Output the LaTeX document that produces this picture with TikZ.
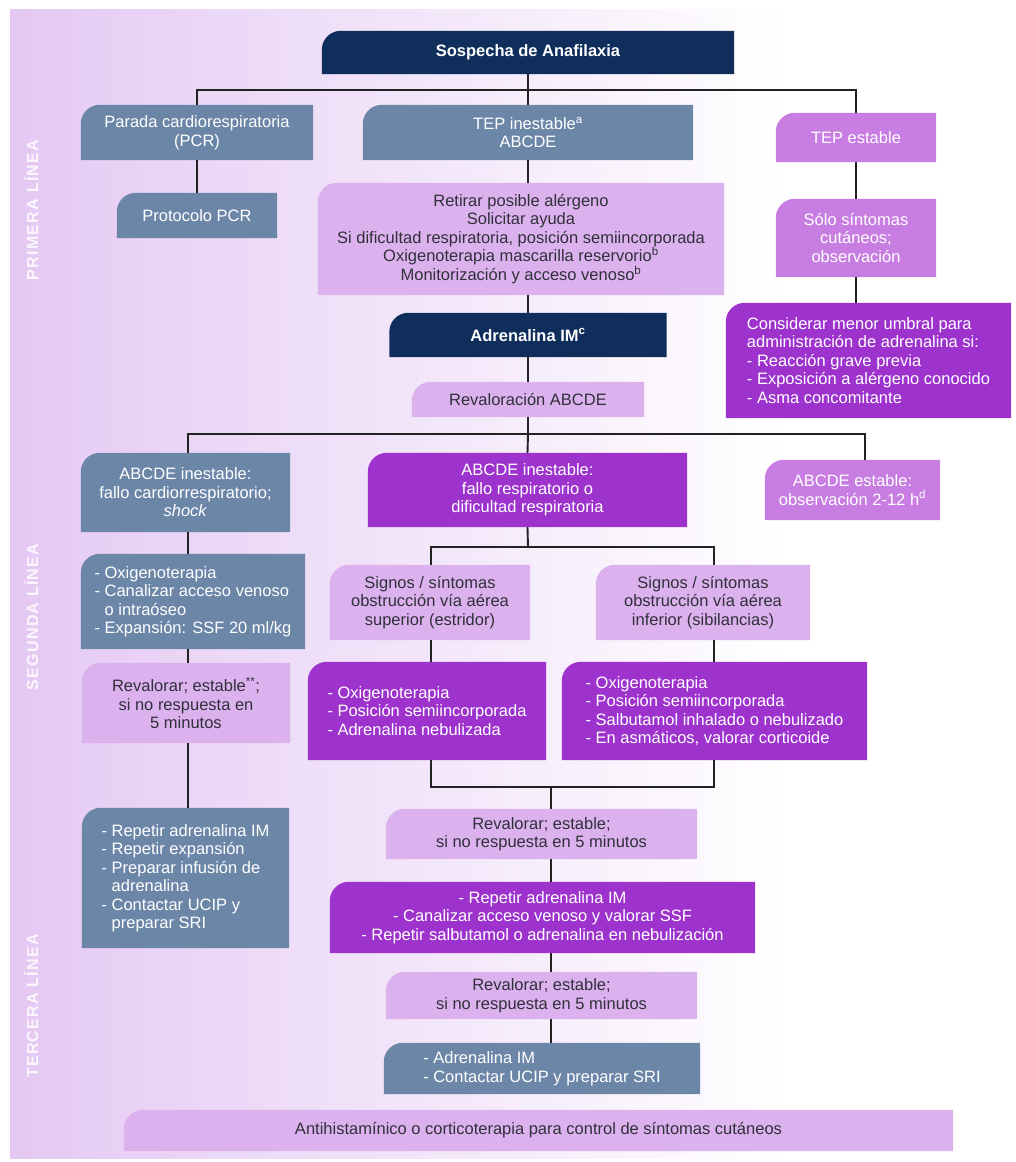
\documentclass[tikz,border=0pt]{standalone}
\usepackage{fontspec}
\setmainfont{Liberation Sans}
\usetikzlibrary{calc}
\definecolor{navy}{RGB}{16,46,92}
\definecolor{slate}{RGB}{108,134,168}
\definecolor{lav}{RGB}{220,178,238}
\definecolor{mpur}{RGB}{199,125,225}
\definecolor{bpur}{RGB}{157,50,205}
\definecolor{bgl}{RGB}{214,172,236}
\definecolor{bgm}{RGB}{232,208,245}
\definecolor{ink}{RGB}{48,48,58}
\definecolor{linec}{RGB}{34,34,34}
\pgfdeclarelayer{bglayer}
\pgfdeclarelayer{fills}
\pgfsetlayers{bglayer,fills,main}
\pgfdeclarehorizontalshading{bgsh}{100bp}{color(0bp)=(bgl); color(8bp)=(bgl); color(30bp)=(bgm); color(64bp)=(white); color(100bp)=(white)}
\newcommand\bxfont{\fontsize{16.5}{18.5}\selectfont}
\newcommand\tlfill[2]{\fill[#2] (#1.south west) -- ($(#1.north west)+(0,19)$) .. controls ($(#1.north west)+(0,8.5)$) and ($(#1.north west)+(8.5,0)$) .. ($(#1.north west)+(19,0)$) -- (#1.north east) -- (#1.south east) -- cycle;}
\newcommand\ind{\phantom{- }}
\begin{document}
\begin{tikzpicture}[x=1pt,y=-1pt,
  bx/.style={inner xsep=4pt, inner ysep=0pt, align=center, font=\bxfont},
  navyb/.style={bx, text=white, font=\bxfont\bfseries},
  slateb/.style={bx, text=white},
  lavb/.style={bx, text=ink},
  mpurb/.style={bx, text=white},
  bpurb/.style={bx, text=white},
  conn/.style={draw=linec, line width=1.9pt},
  lbl/.style={text=white, opacity=0.85, font=\fontsize{16}{19}\selectfont\bfseries\addfontfeatures{LetterSpace=8}, rotate=90}
]
\useasboundingbox (0,0) rectangle (1016,1162);
\begin{pgfonlayer}{bglayer}
  \fill[white] (0,0) rectangle (1016,1162);
  \shade[shading=bgsh] (10,9) rectangle (1005,1158);
\end{pgfonlayer}

% side labels
\node[lbl] (l1) at (31,210) {PRIMERA LÍNEA};
\node[lbl] (l2) at (31,617) {SEGUNDA LÍNEA};
\node[lbl] (l3) at (31,1006) {TERCERA LÍNEA};

% first line
\node[navyb, minimum width=412, minimum height=43] (top) at (528,52.5) {Sospecha de Anafilaxia};
\node[slateb, minimum width=232, minimum height=55] (pcr) at (197,132.5) {Parada cardiorespiratoria\\(PCR)};
\node[slateb, minimum width=330, minimum height=55] (tepi) at (528,132.5) {TEP inestable\textsuperscript{a}\\ABCDE};
\node[mpurb, minimum width=160, minimum height=49] (tepe) at (856,137.5) {TEP estable};
\node[slateb, minimum width=160, minimum height=45] (proto) at (197,215.5) {Protocolo PCR};
\node[lavb, minimum width=406, minimum height=112] (ret) at (521,239) {Retirar posible alérgeno\\Solicitar ayuda\\Si dificultad respiratoria, posición semiincorporada\\Oxigenoterapia mascarilla reservorio\textsuperscript{b}\\Monitorización y acceso venoso\textsuperscript{b}};
\node[mpurb, minimum width=160, minimum height=78] (solo) at (856,238) {Sólo síntomas\\cutáneos;\\observación};
\node[navyb, minimum width=277, minimum height=44] (adren) at (528,335) {Adrenalina IM\textsuperscript{c}};
\node[bpurb, align=left, minimum width=285, minimum height=115] (cons) at (868.5,360.5) {Considerar menor umbral para\\administración de adrenalina si:\\- Reacción grave previa\\- Exposición a alérgeno conocido\\- Asma concomitante};
\node[lavb, minimum width=232, minimum height=35] (revab) at (528,399.5) {Revaloración ABCDE};

% second line
\node[slateb, minimum width=209, minimum height=79] (abL) at (185.5,492.5) {ABCDE inestable:\\fallo cardiorrespiratorio;\\\textit{shock}};
\node[bpurb, minimum width=319, minimum height=74] (abM) at (527.5,490) {ABCDE inestable:\\fallo respiratorio o\\dificultad respiratoria};
\node[mpurb, minimum width=175, minimum height=60] (abR) at (852.5,490) {ABCDE estable:\\observación 2-12 h\textsuperscript{d}};
\node[slateb, align=left, minimum width=224, minimum height=95] (oxL) at (193,601.5) {- Oxigenoterapia\\- Canalizar acceso venoso\\\ind o intraóseo\\- Expansión: SSF 20 ml/kg};
\node[lavb, minimum width=200, minimum height=75] (sgL) at (430,602.5) {Signos / síntomas\\obstrucción vía aérea\\superior (estridor)};
\node[lavb, minimum width=214, minimum height=75] (sgR) at (703,602.5) {Signos / síntomas\\obstrucción vía aérea\\inferior (sibilancias)};
\node[lavb, minimum width=208, minimum height=80] (revL) at (186,703) {Revalorar; estable\textsuperscript{**};\\si no respuesta en\\5 minutos};
\node[bpurb, align=left, minimum width=238, minimum height=98] (puL) at (427,711) {- Oxigenoterapia\\- Posición semiincorporada\\- Adrenalina nebulizada};
\node[bpurb, align=left, minimum width=305, minimum height=98] (puR) at (714.5,711) {- Oxigenoterapia\\- Posición semiincorporada\\- Salbutamol inhalado o nebulizado\\- En asmáticos, valorar corticoide};
\node[lavb, minimum width=311, minimum height=50] (rev1) at (541.5,834) {Revalorar; estable;\\si no respuesta en 5 minutos};

% third line
\node[slateb, align=left, minimum width=207, minimum height=140] (repL) at (185.5,878) {- Repetir adrenalina IM\\- Repetir expansión\\- Preparar infusión de\\\ind adrenalina\\- Contactar UCIP y\\\ind preparar SRI};
\node[bpurb, minimum width=425, minimum height=71] (repM) at (542.5,917.5) {- Repetir adrenalina IM\\- Canalizar acceso venoso y valorar SSF\\- Repetir salbutamol o adrenalina en nebulización};
\node[lavb, minimum width=311, minimum height=47] (rev2) at (541.5,995.5) {Revalorar; estable;\\si no respuesta en 5 minutos};
\node[slateb, align=left, minimum width=316, minimum height=51] (fin) at (542,1068.5) {- Adrenalina IM\\- Contactar UCIP y preparar SRI};
\node[lavb, minimum width=829, minimum height=41] (bot) at (538.5,1130.5) {Antihistamínico o corticoterapia para control de síntomas cutáneos};

% box fills (rounded top-left corner only)
\begin{pgfonlayer}{fills}
  \foreach \n/\col in {top/navy, pcr/slate, tepi/slate, tepe/mpur, proto/slate, ret/lav, solo/mpur, adren/navy, cons/bpur, revab/lav, abL/slate, abM/bpur, abR/mpur, oxL/slate, sgL/lav, sgR/lav, revL/lav, puL/bpur, puR/bpur, rev1/lav, repL/slate, repM/bpur, rev2/lav, fin/slate, bot/lav}
    {\tlfill{\n}{\col}}
\end{pgfonlayer}

% connectors
\coordinate (j1) at (528,90);
\draw[conn] (top.south) -- (j1);
\draw[conn] (pcr.north) |- (j1) -| (tepe.north);
\draw[conn] (j1) -- (tepi.north);
\draw[conn] (pcr.south) -- (proto.north);
\draw[conn] (tepi.south) -- (tepi.south |- ret.north);
\draw[conn] (adren.north |- ret.south) -- (adren.north);
\draw[conn] (tepe.south) -- (solo.north);
\draw[conn] (solo.south) -- (solo.south |- cons.north);
\draw[conn] (adren.south) -- (revab.north);

\coordinate (j2) at (528,434);
\coordinate (cl) at (188,434);
\coordinate (cr) at (865,434);
\draw[conn] (revab.south) -- (j2);
\draw[conn] (cl |- abL.north) -- (cl) -- (cr) -- (cr |- abR.north);
\draw[conn] (j2) -- (abM.north);
\draw[conn] (cl |- abL.south) -- (cl |- oxL.north);
\draw[conn] (cl |- oxL.south) -- (cl |- revL.north);
\draw[conn] (cl |- revL.south) -- (cl |- repL.north);

\coordinate (j3) at (528,547);
\coordinate (sl) at (431,547);
\coordinate (sr) at (714,547);
\draw[conn] (abM.south) -- (j3);
\draw[conn] (sl |- sgL.north) -- (sl) -- (sr) -- (sr |- sgR.north);
\draw[conn] (sl |- sgL.south) -- (sl |- puL.north);
\draw[conn] (sr |- sgR.south) -- (sr |- puR.north);

\coordinate (j4) at (551,787);
\draw[conn] (sl |- puL.south) -- (sl |- j4) -- (sr |- j4) -- (sr |- puR.south);
\draw[conn] (j4) -- (j4 |- rev1.north);
\draw[conn] (j4 |- rev1.south) -- (j4 |- repM.north);
\draw[conn] (j4 |- repM.south) -- (j4 |- rev2.north);
\draw[conn] (j4 |- rev2.south) -- (j4 |- fin.north);
\end{tikzpicture}
\end{document}
